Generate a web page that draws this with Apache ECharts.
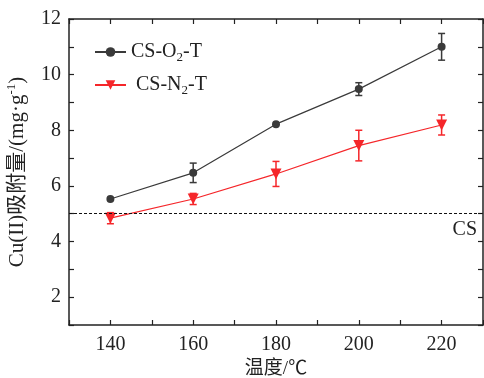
<!DOCTYPE html>
<html>
<head>
<meta charset="utf-8">
<script src="https://cdn.jsdelivr.net/npm/echarts@6/dist/echarts.min.js"></script>
<style>
  html, body { margin: 0; padding: 0; background: #fff; }
  #chart { width: 484px; height: 378px; }
</style>
</head>
<body>
<div id="chart"></div>
<script>
const temps = [140, 160, 180, 200, 220]
const o2Values = [5.53, 6.47, 8.22, 9.48, 11.0]
const o2Errors = [0, 0.35, 0, 0.23, 0.48]
const n2Values = [4.84, 5.53, 6.43, 7.45, 8.19]
const n2Errors = [0.2, 0.2, 0.45, 0.55, 0.36]
const csValue = 5

const serif = '"Liberation Serif", "Times New Roman", "Noto Sans CJK SC", serif'
const axisColor = '#222'
const o2Color = '#3a3a3a'
const n2Color = '#f5262a'

function errorData(values, errors) {
    return temps.map((t, i) => [t, values[i] - errors[i], values[i] + errors[i]])
}

function renderErrorBar(color) {
    return function (params, api) {
        const x = api.value(0)
        const lo = api.coord([x, api.value(1)])
        const hi = api.coord([x, api.value(2)])
        if (Math.abs(lo[1] - hi[1]) < 1) return null
        const w = 3.5
        const style = { stroke: color, lineWidth: 1.5 }
        return {
            type: 'group',
            children: [
                { type: 'line', shape: { x1: lo[0], y1: lo[1], x2: hi[0], y2: hi[1] }, style },
                { type: 'line', shape: { x1: lo[0] - w, y1: lo[1], x2: lo[0] + w, y2: lo[1] }, style },
                { type: 'line', shape: { x1: hi[0] - w, y1: hi[1], x2: hi[0] + w, y2: hi[1] }, style },
            ],
        }
    }
}

const chart = echarts.init(document.getElementById('chart'))

const baseAxis = {
    axisLine: { show: true, onZero: false, lineStyle: { color: axisColor, width: 1.5 } },
    axisTick: { show: true, inside: true, length: 5, lineStyle: { color: axisColor, width: 1.2 } },
    splitLine: { show: false },
}

const option = {
    animation: false,
    backgroundColor: '#fff',
    grid: { left: 69, right: 1, top: 19, bottom: 53, outerBoundsMode: 'none', containLabel: false },
    legend: {
        left: 89,
        top: 35,
        orient: 'vertical',
        itemGap: 9,
        itemWidth: 31,
        itemHeight: 12,
        data: ['CS-O2-T', 'CS-N2-T'],
        formatter: function (name) {
            return name === 'CS-O2-T' ? 'CS-O{sub|2}-T' : ' CS-N{sub|2}-T'
        },
        textStyle: {
            fontFamily: serif,
            fontSize: 20,
            color: '#222',
            lineHeight: 24,
            rich: {
                sub: { fontFamily: serif, fontSize: 13, color: '#222', verticalAlign: 'bottom', lineHeight: 19 },
            },
        },
    },
    xAxis: [
        Object.assign({}, baseAxis, {
            type: 'value',
            min: 130,
            max: 230,
            interval: 10,
            name: '温度/℃',
            nameLocation: 'middle',
            nameGap: 35,
            nameTextStyle: { fontFamily: serif, fontSize: 19, color: '#222' },
            axisLabel: {
                fontFamily: serif,
                fontSize: 20,
                color: '#222',
                margin: 10,
                formatter: v => (v % 20 === 0 ? String(v) : ''),
            },
        }),
        Object.assign({}, baseAxis, {
            type: 'value',
            position: 'top',
            min: 130,
            max: 230,
            interval: 10,
            axisLabel: { show: false },
        }),
    ],
    yAxis: [
        Object.assign({}, baseAxis, {
            type: 'value',
            min: 1,
            max: 12,
            interval: 1,
            name: 'Cu(II)吸附量/(mg·g{sup|-1})',
            nameLocation: 'middle',
            nameGap: 37,
            nameRotate: 90,
            nameTextStyle: {
                fontFamily: serif,
                fontSize: 21,
                color: '#222',
                lineHeight: 25,
                rich: {
                    sup: { fontFamily: serif, fontSize: 13, color: '#222', verticalAlign: 'top', lineHeight: 20 },
                },
            },
            axisLabel: {
                fontFamily: serif,
                fontSize: 20,
                color: '#222',
                margin: 8,
                formatter: v => (v % 2 === 0 ? String(v) : ''),
            },
        }),
        Object.assign({}, baseAxis, {
            type: 'value',
            position: 'right',
            min: 1,
            max: 12,
            interval: 1,
            axisLabel: { show: false },
        }),
    ],
    series: [
        {
            name: 'CS-O2-T',
            type: 'line',
            data: temps.map((t, i) => [t, o2Values[i]]),
            symbol: 'circle',
            symbolSize: 8,
            itemStyle: { color: o2Color },
            lineStyle: { color: o2Color, width: 1.2 },
            z: 3,
            markLine: {
                silent: true,
                symbol: 'none',
                lineStyle: { color: '#111', type: [3, 2], width: 1.2 },
                label: {
                    position: 'insideEndBottom',
                    formatter: 'CS',
                    fontFamily: serif,
                    fontSize: 20,
                    color: '#222',
                    distance: [6, 6],
                },
                data: [{ yAxis: csValue }],
            },
        },
        {
            name: 'CS-N2-T',
            type: 'line',
            data: temps.map((t, i) => [t, n2Values[i]]),
            symbol: 'triangle',
            symbolRotate: 180,
            symbolSize: 11,
            itemStyle: { color: n2Color },
            lineStyle: { color: n2Color, width: 1.2 },
            z: 3,
        },
        {
            type: 'custom',
            data: errorData(o2Values, o2Errors),
            renderItem: renderErrorBar(o2Color),
            encode: { x: 0, y: [1, 2] },
            z: 2,
        },
        {
            type: 'custom',
            data: errorData(n2Values, n2Errors),
            renderItem: renderErrorBar(n2Color),
            encode: { x: 0, y: [1, 2] },
            z: 2,
        },
    ],
}

chart.setOption(option)
</script>
</body>
</html>
